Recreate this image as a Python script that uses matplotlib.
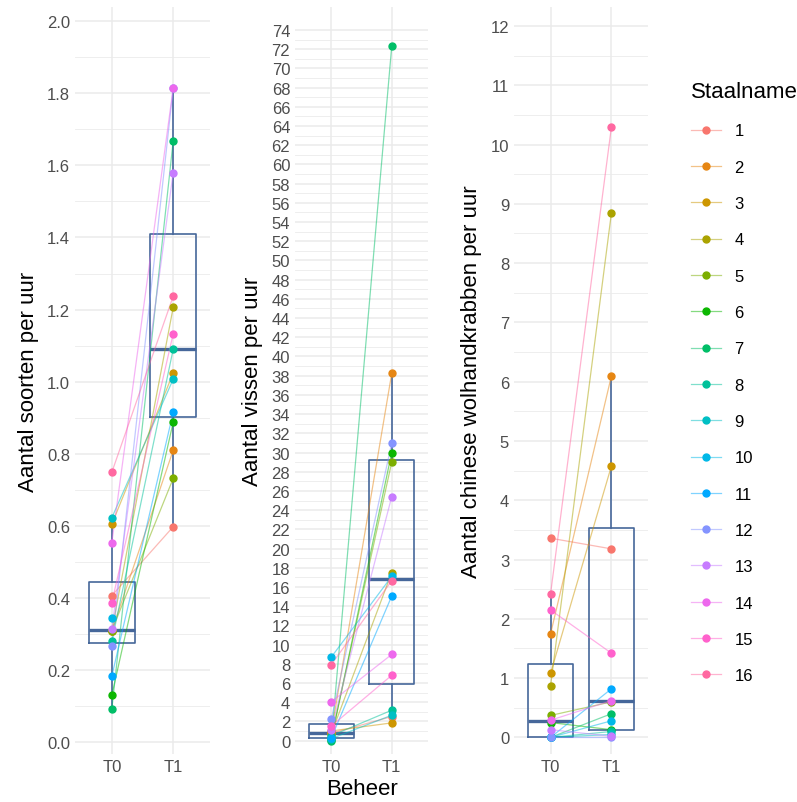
import matplotlib.pyplot as plt
import numpy as np
from matplotlib.lines import Line2D

plt.rcParams["font.family"] = ["Liberation Sans", "DejaVu Sans"]

staalname = [str(i) for i in range(1, 17)]
beheer = ["T0", "T1"]

# Aantal soorten per uur
soorten_t0 = [0.407, 0.310, 0.605, 0.310, 0.310, 0.131, 0.092, 0.280,
              0.623, 0.345, 0.184, 0.267, 0.315, 0.554, 0.388, 0.749]
soorten_t1 = [0.598, 0.810, 1.024, 1.206, 0.732, 0.888, 1.668, 1.090,
              1.007, np.nan, 0.915, 1.814, 1.580, 1.814, 1.133, 1.237]

# Aantal vissen per uur
vissen_t0 = [0.75, 0.85, 1.00, 0.70, 0.25, 0.10, 0.00, 0.50,
             0.20, 8.69, 0.28, 2.20, 1.15, 4.03, 1.50, 7.90]
vissen_t1 = [2.50, 38.24, 1.84, 17.50, 29.00, 30.00, 72.30, 3.16,
             2.64, 17.10, 15.05, 30.97, 25.40, 8.97, 6.80, 16.65]

# Aantal chinese wolhandkrabben per uur
krab_t0 = [3.36, 1.745, 1.08, 0.87, 0.37, 0.25, 0.00, 0.00,
           0.00, 0.00, 0.00, 0.00, 0.13, 0.29, 2.15, 2.42]
krab_t1 = [3.18, 6.10, 4.58, 8.85, 0.60, 0.13, 0.40, 0.10,
           0.05, 0.28, 0.82, 0.00, 0.02, 0.62, 1.42, 10.30]

colors = ["#F8766D", "#E68613", "#CD9600", "#ABA300", "#7CAE00", "#0CB702",
          "#00BE67", "#00C19A", "#00BFC4", "#00B8E7", "#00A9FF", "#8494FF",
          "#C77CFF", "#ED68ED", "#FF61CC", "#FF68A1"]

box_color = "#46679A"
grid_color = "#EBEBEB"
tick_color = "#4D4D4D"

W, H = 797, 803
fig = plt.figure(figsize=(W / 100, H / 100), dpi=100)


def add_panel(left, right, top=8, bottom=755):
    return fig.add_axes([left / W, 1 - bottom / H, (right - left) / W, (bottom - top) / H])


panels = [
    (soorten_t0, soorten_t1, "Aantal soorten per uur", (75, 210), (-0.032, 2.039),
     np.arange(0, 2.01, 0.2), "{:.1f}", ""),
    (vissen_t0, vissen_t1, "Aantal vissen per uur", (295, 428), (-1.4, 76.4),
     np.arange(0, 75, 2), "{:.0f}", "Beheer"),
    (krab_t0, krab_t1, "Aantal chinese wolhandkrabben per uur", (514, 648), (-0.28, 12.32),
     np.arange(0, 13, 1), "{:.0f}", ""),
]

for t0, t1, ylabel, (x0, x1), ylim, majors, fmt, xlabel in panels:
    ax = add_panel(x0, x1)
    t0 = np.array(t0, dtype=float)
    t1 = np.array(t1, dtype=float)

    ax.boxplot([t0[~np.isnan(t0)], t1[~np.isnan(t1)]], positions=[0, 1], widths=0.75,
               showfliers=False, showcaps=False, patch_artist=False,
               boxprops=dict(color=box_color, linewidth=1.2),
               whiskerprops=dict(color=box_color, linewidth=1.2),
               medianprops=dict(color=box_color, linewidth=2.4),
               zorder=2)

    for i in range(len(staalname)):
        ax.plot([0, 1], [t0[i], t1[i]], color=colors[i], alpha=0.5, linewidth=0.9, zorder=3)
    for i in range(len(staalname)):
        ax.plot([0, 1], [t0[i], t1[i]], linestyle="none", marker="o", markersize=5,
                color=colors[i], zorder=4)

    step = majors[1] - majors[0]
    ax.set_yticks(majors)
    ax.set_yticklabels([fmt.format(v) for v in majors])
    ax.set_yticks(majors[:-1] + step / 2, minor=True)
    ax.set_ylim(*ylim)
    ax.set_xlim(-0.6, 1.6)
    ax.set_xticks([0, 1])
    ax.set_xticklabels(beheer)

    ax.grid(which="major", color=grid_color, linewidth=1.1)
    ax.grid(which="minor", axis="y", color=grid_color, linewidth=0.6)
    ax.set_axisbelow(True)
    for s in ax.spines.values():
        s.set_visible(False)
    ax.tick_params(which="both", length=0, labelsize=12, colors=tick_color, pad=3.5)
    ax.set_ylabel(ylabel, fontsize=16, labelpad=6)
    ax.set_xlabel(xlabel, fontsize=16, labelpad=3)

handles = [Line2D([0], [0], color=c, alpha=0.5, linewidth=0.9) for c in colors]
points = [Line2D([0], [0], color=c, linestyle="none", marker="o", markersize=5) for c in colors]
fig.legend([(h, p) for h, p in zip(handles, points)], staalname,
           title="Staalname", loc="upper left", bbox_to_anchor=(676 / W, 1 - 67 / H),
           frameon=False, fontsize=12, title_fontsize=16, labelspacing=1.28,
           handlelength=1.8, handletextpad=0.8, alignment="left")

fig.savefig("out.png", dpi=100)
